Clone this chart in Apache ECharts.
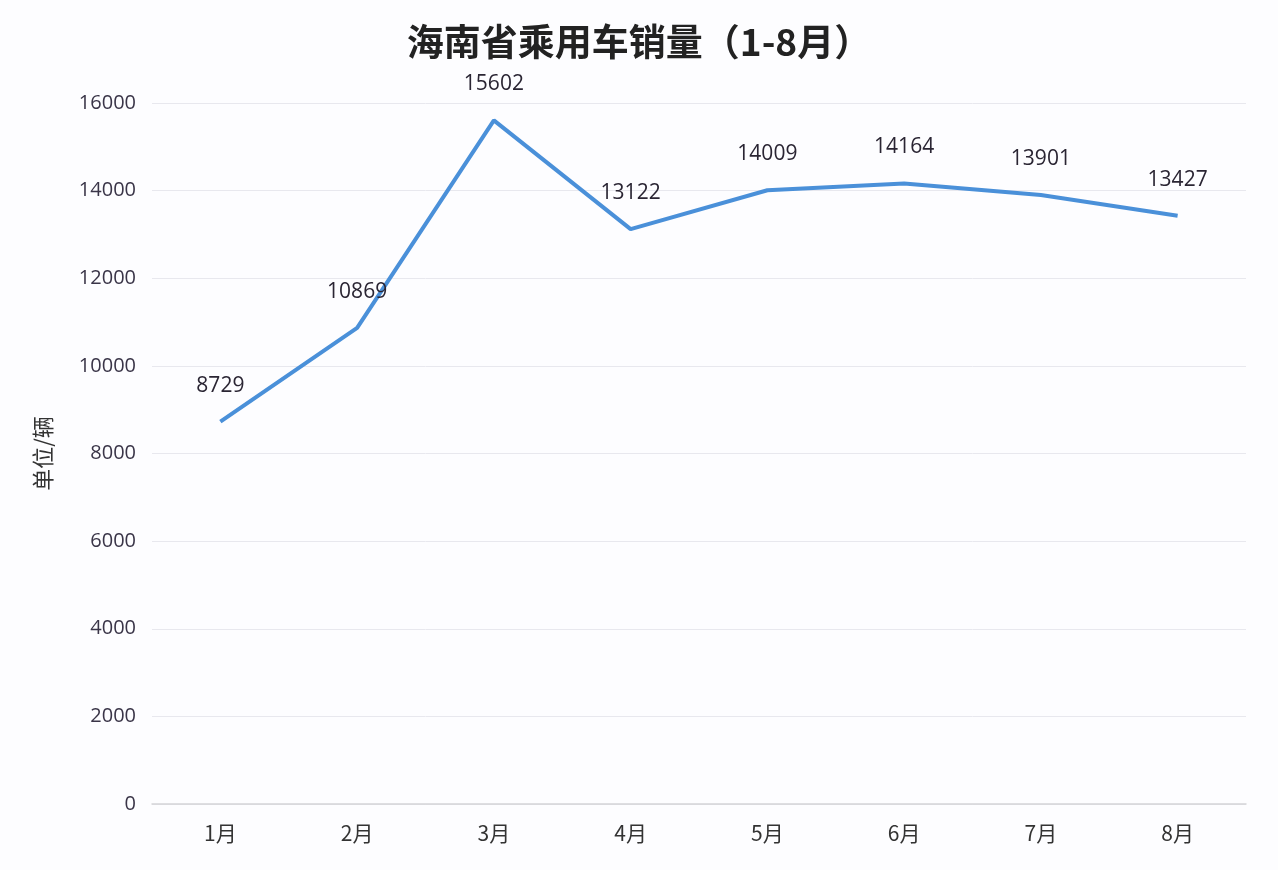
<!DOCTYPE html>
<html><head><meta charset="utf-8">
<script src="https://cdn.jsdelivr.net/npm/echarts@6/dist/echarts.min.js"></script>
<style>html,body{margin:0;padding:0;background:#fff}#c{width:1278px;height:870px}</style>
</head><body><div id="c"></div>
<script>
const months = ['1月','2月','3月','4月','5月','6月','7月','8月'];
const sales = [8729, 10869, 15602, 13122, 14009, 14164, 13901, 13427];
const title = '海南省乘用车销量（1-8月）';
const yName = '单位/辆';
const chart = echarts.init(document.getElementById('c'));
const font = '"Noto Sans CJK SC", "Microsoft YaHei", sans-serif';
const numFont = '"Open Sans", "Noto Sans CJK SC", sans-serif';
chart.setOption({
  backgroundColor: '#fdfdff',
  title: { text: title, left: 'center', top: 18, textStyle: { fontFamily: font, fontSize: 37, fontWeight: 'bold', color: '#222' } },
  grid: { left: 152, right: 32, top: 103, bottom: 66 },
  xAxis: { type: 'category', data: months, boundaryGap: true,
    axisLine: { lineStyle: { color: '#d4d4d8', width: 1.5 } }, axisTick: { show: false },
    axisLabel: { fontFamily: font, fontSize: 21, color: '#333', margin: 19 } },
  yAxis: { type: 'value', min: 0, max: 16000, interval: 2000, name: yName, nameLocation: 'middle', nameGap: 98,
    nameTextStyle: { fontFamily: font, fontSize: 22, color: '#333' },
    axisLine: { show: false }, axisTick: { show: false },
    axisLabel: { fontFamily: numFont, fontSize: 20, color: '#3a3548', margin: 16, formatter: v => String(v) },
    splitLine: { lineStyle: { color: '#e8e8ee', width: 1 } } },
  series: [{ type: 'line', data: sales, symbol: 'circle', symbolSize: 1, showSymbol: true,
    itemStyle: { color: 'rgba(74,144,217,0)', borderWidth: 0 },
    lineStyle: { color: '#4a90d9', width: 4 },
    label: { show: true, position: 'top', distance: 25, fontFamily: numFont, fontSize: 21, color: '#2a2533' } }],
  animation: false
});
</script></body></html>
